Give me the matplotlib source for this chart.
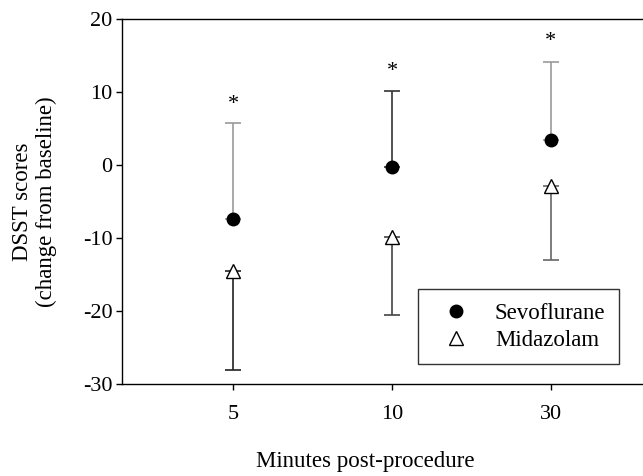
import matplotlib
matplotlib.use("Agg")
import matplotlib.pyplot as plt

plt.rcParams['font.family'] = ['Liberation Serif', 'DejaVu Serif']
plt.rcParams['axes.unicode_minus'] = False

# data
minutes = ['5', '10', '30']
sevo_mean = [-7.4, -0.2, 3.4]
sevo_upper = [5.8, 10.1, 14.1]      # top of error bar
mida_mean = [-14.5, -9.8, -2.9]
mida_lower = [-28.1, -20.5, -13.0]  # bottom of error bar
star_y = [8.3, 12.8, 16.9]

xpos = [1, 2, 3]
sevo_err_col = ['#9a9a9a', '#333333', '#9a9a9a']
mida_err_col = ['#222222', '#444444', '#666666']

fig = plt.figure(figsize=(6.43, 4.76), dpi=100)
ax = fig.add_axes([0.19, 0.193, 0.81, 0.767])

for i in range(3):
    ax.errorbar(xpos[i], sevo_mean[i], yerr=[[0], [sevo_upper[i] - sevo_mean[i]]],
                fmt='none', ecolor=sevo_err_col[i], elinewidth=1.2, capsize=5.5, capthick=1.2)
    ax.errorbar(xpos[i], mida_mean[i], yerr=[[mida_mean[i] - mida_lower[i]], [0]],
                fmt='none', ecolor=mida_err_col[i], elinewidth=1.2, capsize=5.5, capthick=1.2)
    ax.text(xpos[i], star_y[i], '*', ha='center', va='center', fontsize=16)

ax.plot(xpos, sevo_mean, 'o', color='black', markersize=9, linestyle='none', label='Sevoflurane')
ax.plot(xpos, mida_mean, '^', markerfacecolor='white', markeredgecolor='black',
        markersize=10, markeredgewidth=1, linestyle='none', label='Midazolam')

ax.set_xlim(0.30, 3.58)
ax.set_ylim(-30, 20)
ax.set_xticks(xpos)
ax.set_xticklabels(minutes)
ax.set_yticks([-30, -20, -10, 0, 10, 20])
ax.tick_params(axis='both', direction='out', length=4, width=1, labelsize=16)
ax.tick_params(axis='x', pad=11)
ax.tick_params(axis='y', pad=3)

ax.spines['right'].set_visible(False)
for s in ['left', 'top', 'bottom']:
    ax.spines[s].set_linewidth(1)

ax.set_xlabel('Minutes post-procedure', fontsize=16.5)
ax.xaxis.set_label_coords(0.466, -0.184)
ax.set_ylabel('DSST scores\n(change from baseline)', fontsize=16.5, linespacing=1.15)
ax.yaxis.set_label_coords(-0.125, 0.5)

leg = ax.legend(loc='upper left', bbox_to_anchor=(418 / 643, (476 - 289) / 476),
                bbox_transform=fig.transFigure, fontsize=16.5, frameon=True, fancybox=False,
                edgecolor='black', borderpad=0.6, handletextpad=0.66, labelspacing=0.25,
                borderaxespad=0, handlelength=2.1)
leg.get_frame().set_linewidth(1)

fig.savefig('out.png', dpi=100)
